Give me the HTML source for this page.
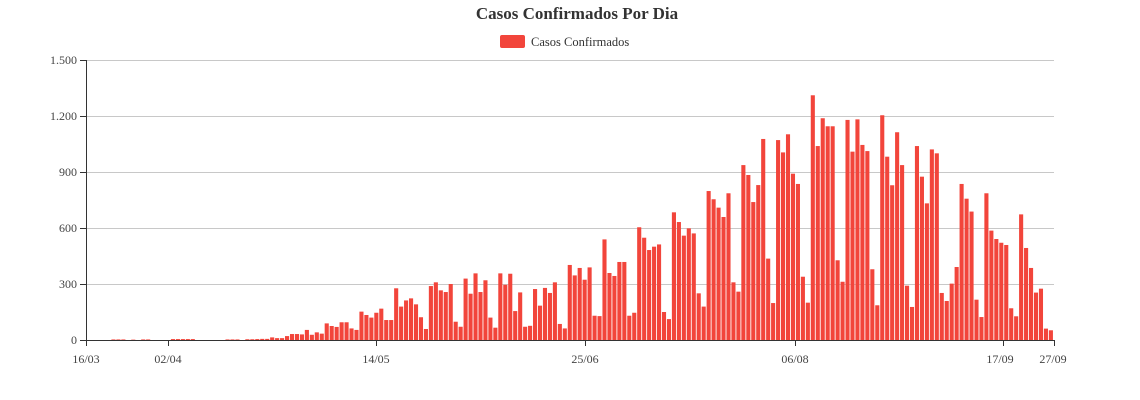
<!DOCTYPE html>
<html><head><meta charset="utf-8"><style>
html,body{margin:0;padding:0;background:#fff;}
svg{display:block;font-family:"Liberation Serif","DejaVu Serif",serif;}
</style></head><body>
<svg id="c" width="1140" height="400" viewBox="0 0 1140 400" xmlns="http://www.w3.org/2000/svg">
<text x="577" y="19" text-anchor="middle" font-size="17" font-weight="bold" fill="#333">Casos Confirmados Por Dia</text>
<rect x="500" y="35" width="25" height="13" rx="2" fill="#f2453b"/>
<text x="531" y="46" font-size="12.5" fill="#333">Casos Confirmados</text>
<g stroke="#c8c8c8" stroke-width="1">
<line x1="86" y1="60.5" x2="1054" y2="60.5"/>
<line x1="86" y1="116.5" x2="1054" y2="116.5"/>
<line x1="86" y1="172.5" x2="1054" y2="172.5"/>
<line x1="86" y1="228.5" x2="1054" y2="228.5"/>
<line x1="86" y1="284.5" x2="1054" y2="284.5"/>
</g>
<g font-size="12" fill="#444" text-anchor="end">
<text x="77" y="64">1.500</text><text x="77" y="120">1.200</text><text x="77" y="176">900</text>
<text x="77" y="232">600</text><text x="77" y="288">300</text><text x="77" y="344">0</text>
</g>
<g id="bars" fill="#f2453b"></g>
<g stroke="#333" stroke-width="1">
<line x1="86.5" y1="60" x2="86.5" y2="340"/>
<line x1="80" y1="60.5" x2="86" y2="60.5"/><line x1="80" y1="116.5" x2="86" y2="116.5"/>
<line x1="80" y1="172.5" x2="86" y2="172.5"/><line x1="80" y1="228.5" x2="86" y2="228.5"/>
<line x1="80" y1="284.5" x2="86" y2="284.5"/>
<line x1="80" y1="340.5" x2="1055" y2="340.5"/>
<line x1="86.5" y1="340" x2="86.5" y2="346"/><line x1="168.5" y1="340" x2="168.5" y2="346"/>
<line x1="376.5" y1="340" x2="376.5" y2="346"/><line x1="585.5" y1="340" x2="585.5" y2="346"/>
<line x1="795.5" y1="340" x2="795.5" y2="346"/><line x1="1003.5" y1="340" x2="1003.5" y2="346"/>
<line x1="1054.5" y1="340" x2="1054.5" y2="346"/>
</g>
<g font-size="12" fill="#444" text-anchor="middle">
<text x="86" y="363">16/03</text><text x="168" y="363">02/04</text><text x="376" y="363">14/05</text>
<text x="585" y="363">25/06</text><text x="795" y="363">06/08</text><text x="1000" y="363">17/09</text>
<text x="1053" y="363">27/09</text>
</g>
</svg>
<script>
var v=[0,0,0,0,0,3,3,3,0,2,0,3,3,0,0,0,0,5,5,5,5,5,0,0,0,0,0,0,3,3,3,0,4,4,5,6,6,
14,10,10,21,32,32,30,54,28,41,34,89,75,70,95,95,62,54,152,134,120,146,168,107,107,277,179,212,223,191,122,59,
289,309,266,257,300,98,71,329,248,357,257,320,120,66,357,296,355,155,255,71,76,273,184,279,252,309,86,62,
402,346,386,323,389,130,128,539,359,343,418,418,130,146,604,548,482,500,512,150,112,684,632,559,598,571,250,179,
798,754,709,659,786,309,259,937,884,739,830,1077,436,198,1071,1005,1102,891,836,339,200,1311,1039,1188,1145,1145,427,312,
1179,1009,1182,1045,1012,379,186,1204,982,829,1113,937,291,177,1039,875,732,1021,1000,252,209,302,391,836,757,688,216,123,
786,586,541,521,509,170,127,673,493,386,254,275,61,52];
var g=document.getElementById('bars'),ns='http://www.w3.org/2000/svg';
for(var i=0;i<v.length;i++){if(!v[i])continue;var h=v[i]*280/1500;var r=document.createElementNS(ns,'rect');
r.setAttribute('x',(86.6+i*4.96).toFixed(2));r.setAttribute('width','4.1');r.setAttribute('y',(340-h).toFixed(2));r.setAttribute('height',h.toFixed(2));g.appendChild(r);}
</script>
</body></html>
